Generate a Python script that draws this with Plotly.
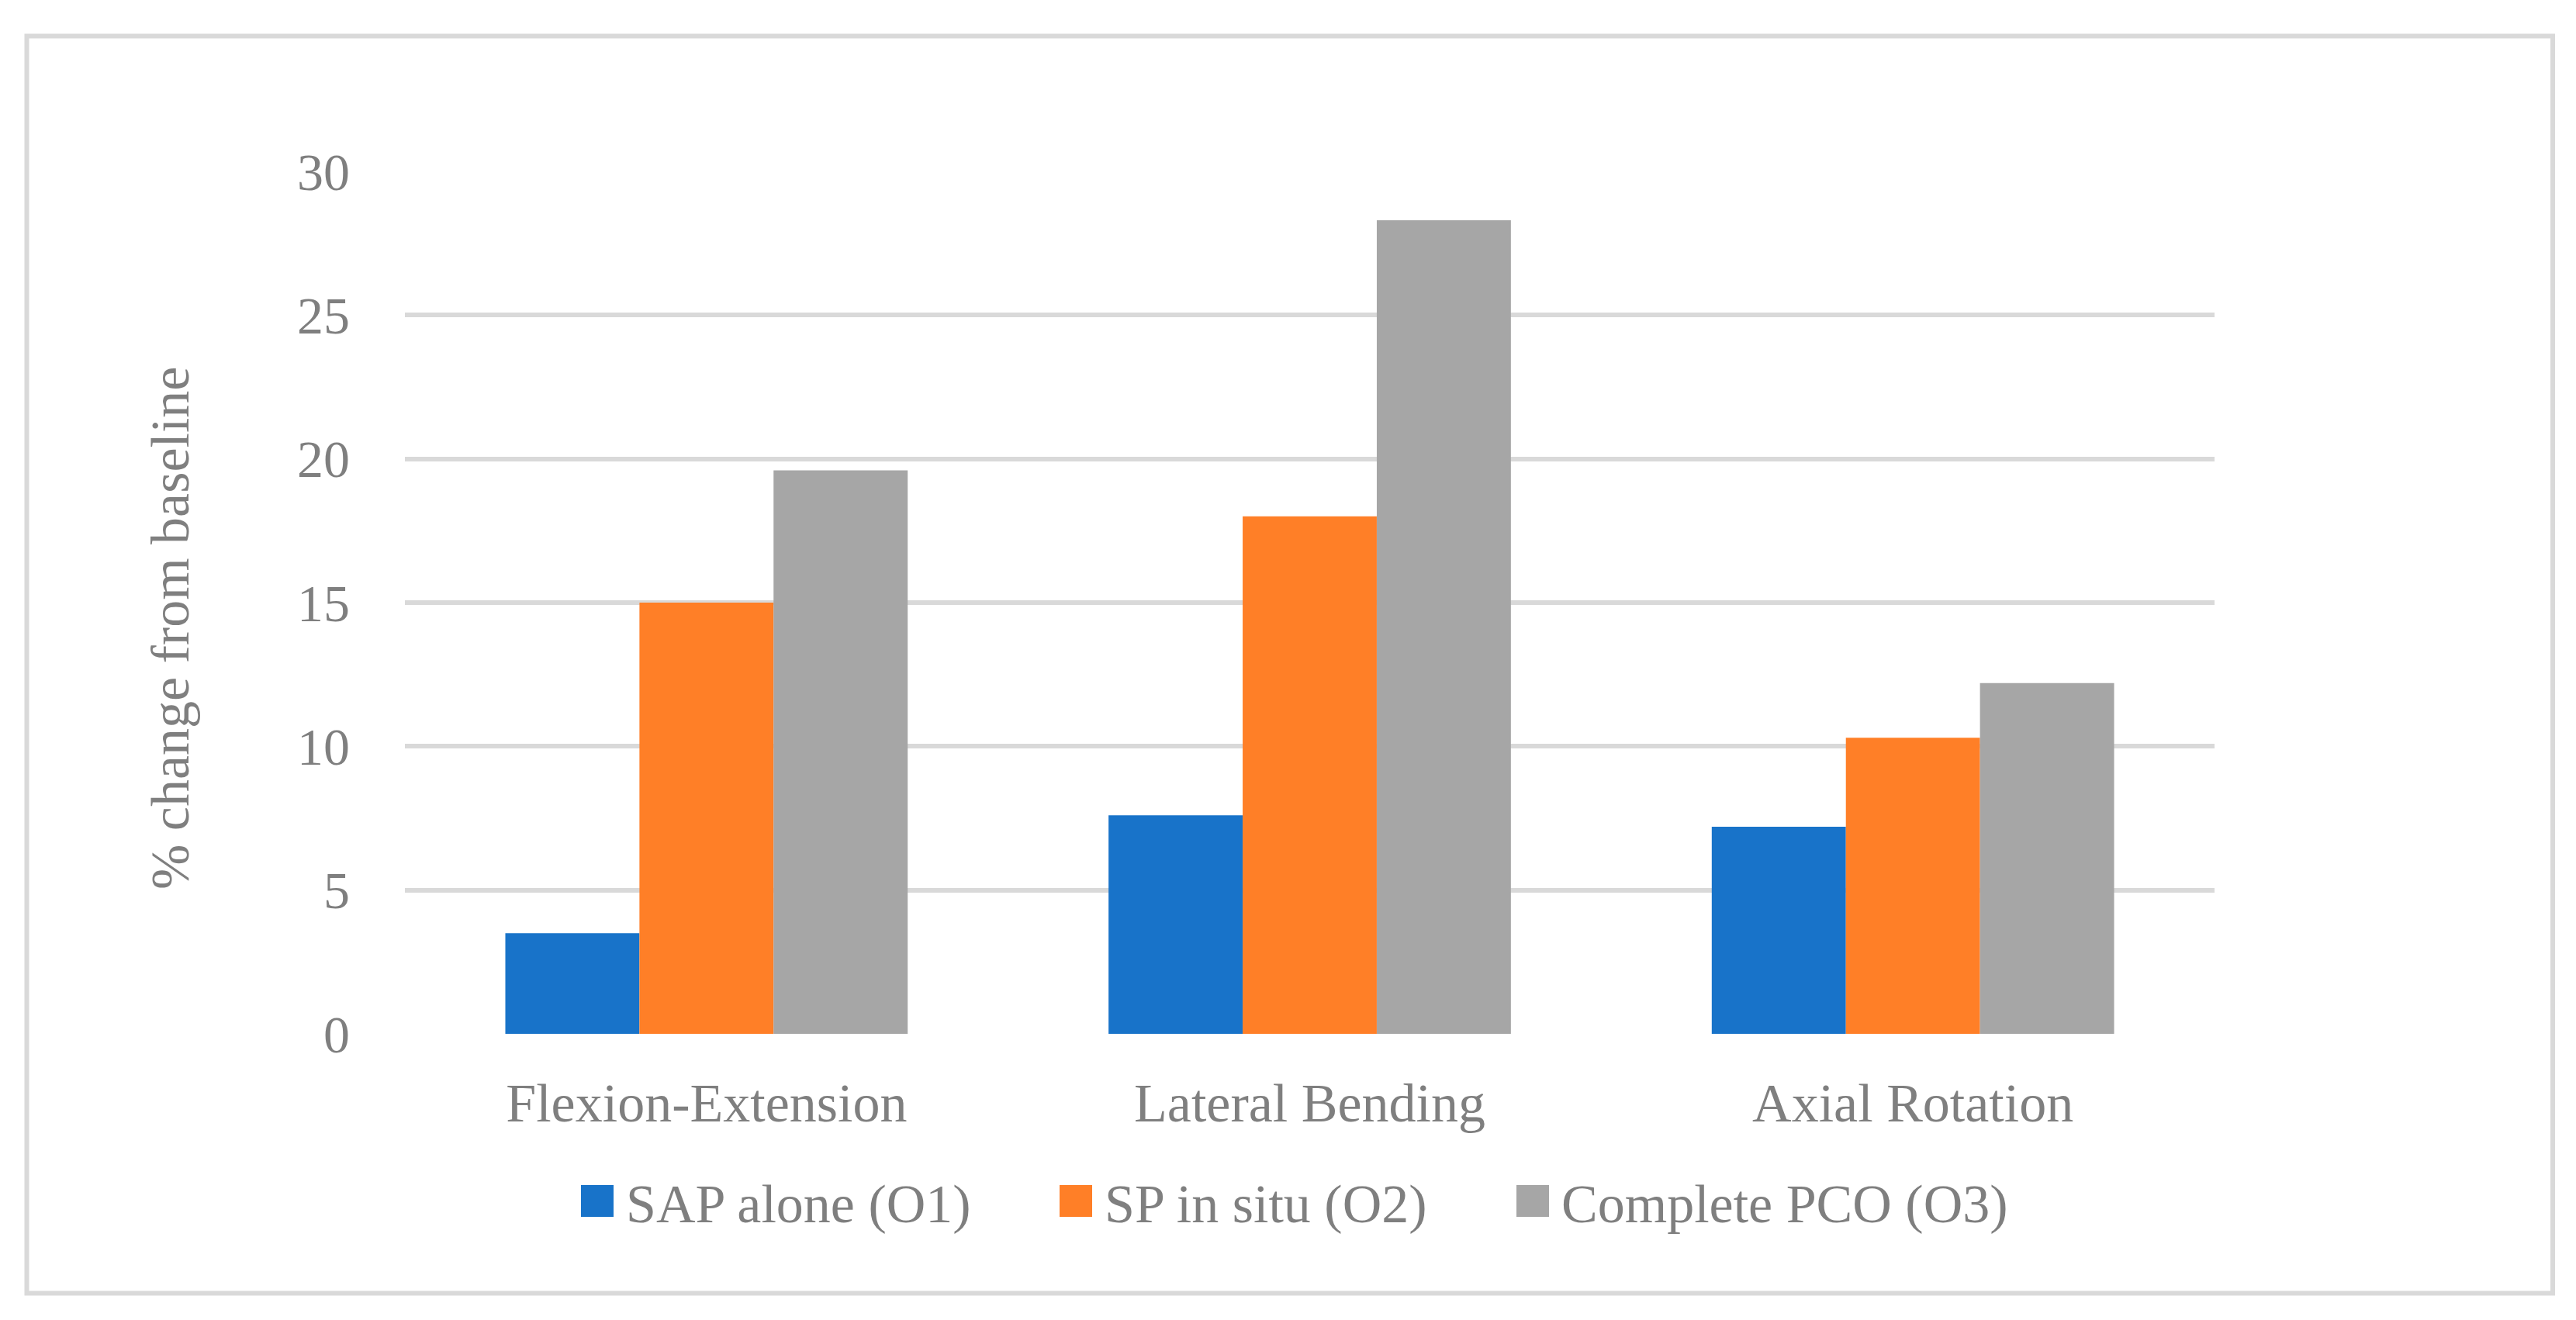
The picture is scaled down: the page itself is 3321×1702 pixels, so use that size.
import plotly.graph_objects as go

categories = ["Flexion-Extension", "Lateral Bending", "Axial Rotation"]
series_names = ["SAP alone (O1)", "SP in situ (O2)", "Complete PCO (O3)"]
sap_alone = [3.5, 7.6, 7.2]
sp_in_situ = [15.0, 18.0, 10.3]
complete_pco = [19.6, 28.3, 12.2]
y_ticks = [0, 5, 10, 15, 20, 25, 30]

colors = ["#1873C9", "#FF7F27", "#A6A6A6"]
FONT = "Liberation Serif"
TXT = "#7F7F7F"

# page has an 8px body margin
OFF = 8
W, H = 3321 - 2 * OFF, 1702 - 2 * OFF
L = 522 - OFF
R = W - (2855 - OFF)
T = 221 - OFF
B = H - (1333 - OFF)
pw, ph = W - L - R, H - T - B


def px_x(p):
    return (p - OFF - L) / pw


def px_y(p):
    return (H - B - (p - OFF)) / ph


fig = go.Figure()
for name, vals, col in zip(series_names, [sap_alone, sp_in_situ, complete_pco], colors):
    fig.add_trace(go.Bar(x=categories, y=vals, name=name, showlegend=False,
                         marker=dict(color=col, line=dict(width=0))))

# legend (keys drawn as boxes next to text)
legend_key_x = [749, 1366, 1955]
key_w, key_top, key_bot = 42, 1528, 1569
shapes = [dict(type="rect", xref="paper", yref="paper",
               x0=px_x(34.5), x1=px_x(3291), y0=px_y(1667.5), y1=px_y(46.5),
               line=dict(color="#D9D9D9", width=6), fillcolor="rgba(0,0,0,0)", layer="below")]
annotations = [dict(text="% change from baseline", xref="paper", yref="paper",
                    x=px_x(220), y=px_y(810), textangle=-90, showarrow=False,
                    xanchor="center", yanchor="middle",
                    font=dict(size=70, color=TXT, family=FONT))]
for name, col, kx in zip(series_names, colors, legend_key_x):
    shapes.append(dict(type="rect", xref="paper", yref="paper",
                       x0=px_x(kx), x1=px_x(kx + key_w), y0=px_y(key_bot), y1=px_y(key_top),
                       line=dict(width=0), fillcolor=col))
    annotations.append(dict(text=name, xref="paper", yref="paper",
                            x=px_x(kx + key_w + 14), y=px_y(1552), showarrow=False,
                            xanchor="left", yanchor="middle",
                            font=dict(size=70, color=TXT, family=FONT)))

fig.update_layout(
    width=W, height=H,
    margin=dict(l=L, r=R, t=T, b=B, pad=0),
    paper_bgcolor="white", plot_bgcolor="white",
    barmode="group", bargap=0.333, bargroupgap=0,
    font=dict(family=FONT, color=TXT, size=70),
    showlegend=False,
    xaxis=dict(showgrid=False, showline=False, zeroline=False, ticks="",
               tickfont=dict(size=70, color=TXT, family=FONT), ticklabelstandoff=42),
    yaxis=dict(range=[0, 30], tickvals=y_ticks, showgrid=True, gridcolor="#D9D9D9", gridwidth=6,
               zeroline=False, showline=False, ticks="",
               tickfont=dict(size=68, color=TXT, family=FONT), ticklabelstandoff=70),
    shapes=shapes,
    annotations=annotations,
)

fig.write_html("out.html")
